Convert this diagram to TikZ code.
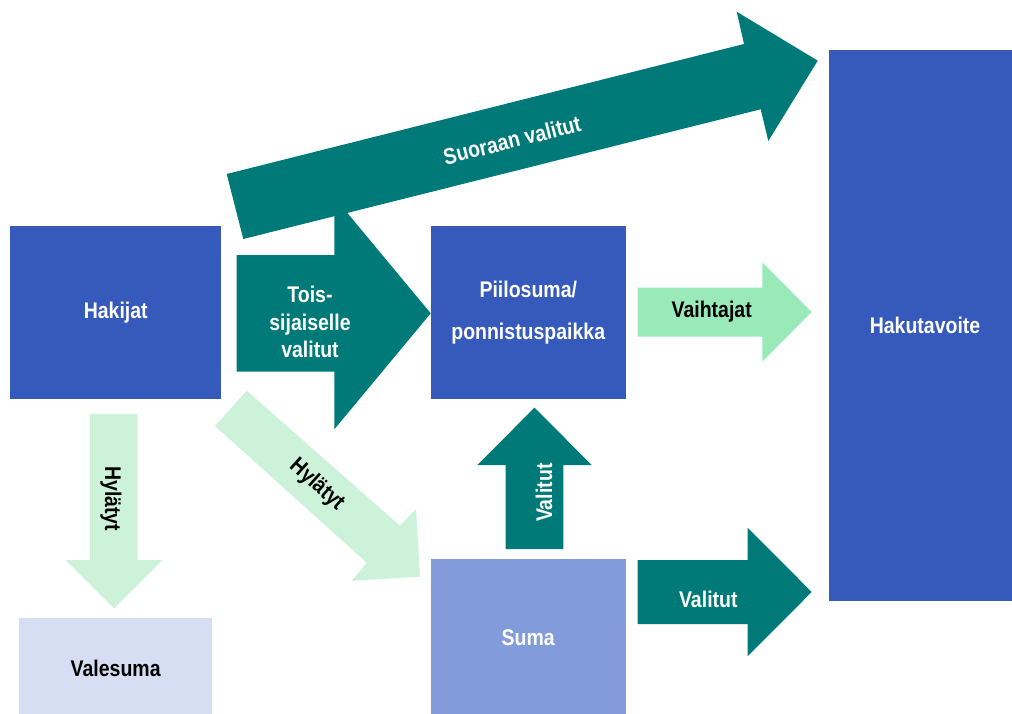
\documentclass[tikz,border=0pt]{standalone}
\usepackage{fontspec}
\setmainfont{Liberation Sans}[FakeStretch=0.86]
\usepackage{tikz}

\definecolor{hakublue}{RGB}{54,89,188}
\definecolor{sumablue}{RGB}{130,155,219}
\definecolor{valeblue}{RGB}{213,222,242}
\definecolor{tealarrow}{RGB}{0,122,120}
\definecolor{mintarrow}{RGB}{153,233,185}
\definecolor{palemint}{RGB}{204,242,218}

\tikzset{
  box/.style={rectangle, inner sep=0pt, outer sep=0pt, text=white, align=center,
    font=\bfseries\fontsize{17}{20.5}\selectfont},
  lbl/.style={inner sep=0pt, align=center, font=\bfseries\fontsize{17}{20.5}\selectfont}
}

\begin{document}
\begin{tikzpicture}[x=0.75pt, y=-0.75pt]
    \useasboundingbox (0, 0) rectangle (1012, 713);

    % boxes
    \node[box, fill=hakublue, minimum width=158.6pt, minimum height=129.75pt] (hakijat) at (115.75, 312.5) {Hakijat};
    \node[box, fill=hakublue, minimum width=145.9pt, minimum height=129.75pt] (piilosuma) at (528.25, 312.5) {Piilosuma/\\[11pt]ponnistuspaikka};
    \node[box, fill=sumablue, minimum width=145.9pt, minimum height=117.75pt] (suma) at (528.25, 637.5) {Suma};
    \node[box, fill=valeblue, text=black, minimum width=145pt, minimum height=75.5pt] (valesuma) at (115.65, 668) {Valesuma};
    \node[box, fill=hakublue, minimum width=144pt, minimum height=412.9pt] (hakutavoite) at (925, 325.75) {Hakutavoite};

    % arrows
    \fill[tealarrow] (236.7, 255) -- (334.3, 255) -- (334.3, 197.3) -- (430.7, 313.3) -- (334.3, 429.3) -- (334.3, 371.7) -- (236.7, 371.7) -- cycle;
    \fill[tealarrow] (226.7, 174) -- (744, 44) -- (736.7, 11.7) -- (817.7, 60.7) -- (768.3, 141) -- (760.7, 109.3) -- (243.3, 239) -- cycle;
    \fill[mintarrow] (637.7, 287.5) -- (762.3, 287.5) -- (762.3, 262.5) -- (811.7, 312) -- (762.3, 361.5) -- (762.3, 336.5) -- (637.7, 336.5) -- cycle;
    \fill[tealarrow] (637.7, 560) -- (747.7, 560) -- (747.7, 527.8) -- (811.7, 592) -- (747.7, 656.2) -- (747.7, 624) -- (637.7, 624) -- cycle;
    \fill[tealarrow] (505.7, 549) -- (505.7, 465) -- (477.3, 465) -- (534.5, 407.7) -- (591.7, 465) -- (563.3, 465) -- (563.3, 549) -- cycle;
    \fill[palemint] (90, 414) -- (137.7, 414) -- (137.7, 560) -- (162.3, 560) -- (114, 608.3) -- (65.7, 560) -- (90, 560) -- cycle;
    \fill[palemint] (246.7, 390.7) -- (400, 525.7) -- (416, 509) -- (420, 576.7) -- (351.7, 580.7) -- (366.7, 562.7) -- (215, 426) -- cycle;

    % arrow texts
    \node[lbl, text=white, rotate=14.1] (suoraan) at (512, 140) {Suoraan valitut};
    \node[lbl, text=white] (toissij) at (310, 322) {Tois-\\sijaiselle\\valitut};
    \node[lbl] (vaihtajat) at (711.7, 312) {Vaihtajat};
    \node[lbl, text=white] (valitutsuma) at (708.3, 599) {Valitut};
    \node[lbl, text=white, rotate=90] (valitutup) at (544, 492.7) {Valitut};
    \node[lbl, rotate=-90] (hylatytdown) at (111, 498.8) {Hylätyt};
    \node[lbl, rotate=-41.7] (hylatytdiag) at (316.7, 485) {Hylätyt};
\end{tikzpicture}
\end{document}
